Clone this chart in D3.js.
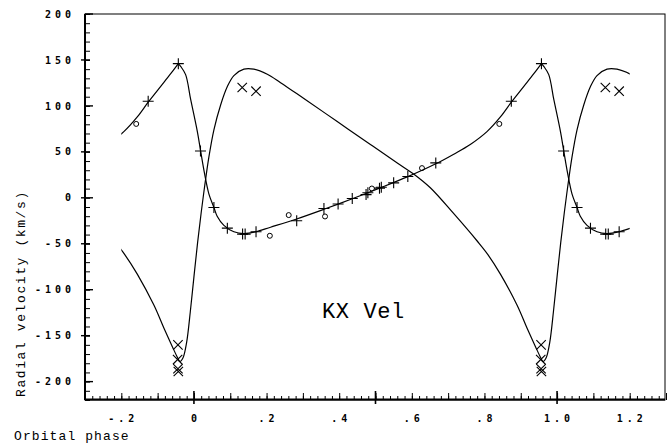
<!DOCTYPE html>
<html><head><meta charset="utf-8">
<script src="https://cdn.jsdelivr.net/npm/d3@7"></script>
<style>html,body{margin:0;padding:0;background:#fff;} svg{display:block;}</style>
</head><body>
<svg id="chart" width="667" height="445"></svg>
<script>
// ---- data (one orbital cycle; plotted at phase and phase +/- 1) ----
const primaryCurvePhase = [-0.043,-0.0366,-0.0229,-0.009,0.0094,0.0184,0.0294,0.0413,0.055,0.064,0.0825,0.11,0.1376,0.17,0.211,0.283,0.358,0.436,0.511,0.589,0.666,0.7155,0.761,0.807,0.844,0.874,0.908,0.936,0.957];
const primaryCurveRV    = [146,143,134,107,72,51,26,4,-10.5,-20,-30,-37,-39,-37,-32,-23,-12.5,-1,10.5,23,37,47.5,58,72,88,104,121,135,146];
const secondaryCurvePhase = [-0.395,-0.349,-0.285,-0.22,-0.19,-0.156,-0.11,-0.0825,-0.0594,-0.045,-0.0385,-0.03,-0.02,-0.01,0,0.01,0.02,0.03,0.041,0.055,0.0735,0.092,0.11,0.1376,0.165,0.202,0.2386,0.3027,0.3946,0.486,0.56,0.605];
const secondaryCurveRV    = [26,11,-17,-47,-62,-83,-117,-142,-162,-174,-178,-174,-157,-124,-86,-49,-16,14,44,74,101,121,133,140,140,134.5,125.3,108,83,58,38,26];
const primaryPlusPhase = [0.018,0.055,0.092,0.134,0.141,0.171,0.283,0.358,0.397,0.436,0.474,0.479,0.511,0.516,0.550,0.589,0.666,0.874,0.957];
const primaryPlusRV    = [51,-10.5,-33,-39.5,-39.5,-37,-25,-11.6,-6.8,-0.8,3.5,5.5,10.5,11.5,16.3,23.2,38,105,146];
const primaryCirclePhase = [0.209,0.261,0.361,0.490,0.628,0.841];
const primaryCircleRV    = [-41.3,-18.8,-20.3,10.1,32.3,80.4];
const secondaryCrossPhase = [0.133,0.171,0.956,0.955,0.956,0.957];
const secondaryCrossRV    = [120,116,-160,-176,-186,-189];
const xTickValues = [-0.2,0,0.2,0.4,0.6,0.8,1.0,1.2];
const xTickLabels = ["-.2","0",".2",".4",".6",".8","1.0","1.2"];
const yTickValues = [200,150,100,50,0,-50,-100,-150,-200];
const yTickLabels = ["200","150","100","50","0","-50","-100","-150","-200"];
const cycleShifts = [-1,0,1];
const phaseMin = -0.2, phaseMax = 1.2;

const svg = d3.select("#chart");
const x = d3.scaleLinear().domain([-0.3,1.3]).range([85,666]);
const y = d3.scaleLinear().domain([-220,200]).range([400,14]);

// frame
svg.append("rect").attr("x",x(-0.3)).attr("y",y(200)).attr("width",x(1.3)-x(-0.3)-1).attr("height",y(-220)-y(200))
  .attr("fill","none").attr("stroke","#000").attr("stroke-width",1);

// x axis ticks
const xMinor = d3.range(-15,66).map(i=>+(i*0.02).toFixed(2));
const xMid = d3.range(-3,14).map(i=>+(i*0.1).toFixed(1));
svg.append("g").attr("transform",`translate(0,${y(-220)})`)
  .call(d3.axisBottom(x).tickValues(xMinor).tickSize(-4).tickFormat("")).call(g=>g.select(".domain").remove());
svg.append("g").attr("transform",`translate(0,${y(-220)})`)
  .call(d3.axisBottom(x).tickValues(xMid).tickSize(-7).tickFormat("")).call(g=>g.select(".domain").remove());
[0,0.5,1.0].forEach(v=>{
  svg.append("line").attr("x1",x(v)).attr("x2",x(v)).attr("y1",y(-220)-9).attr("y2",y(-220)+4).attr("stroke","#000").attr("stroke-width",1.6);
});
// y axis ticks
const yMinor = d3.range(-22,21).map(i=>i*10);
svg.append("g").attr("transform",`translate(${x(-0.3)},0)`)
  .call(d3.axisLeft(y).tickValues(yMinor).tickSize(-5).tickFormat("")).call(g=>g.select(".domain").remove());
yTickValues.forEach(v=>{
  let x1 = x(-0.3), x2 = x(-0.3)+5;
  if (v===0){x1-=4; x2=x(-0.3)+8;}
  else if (v%100===0){x2=x(-0.3)+8;}
  else {x1-=4;}
  svg.append("line").attr("x1",x1).attr("x2",x2).attr("y1",y(v)).attr("y2",y(v)).attr("stroke","#000").attr("stroke-width",1.4);
});
// heavy left and bottom axis lines
svg.append("line").attr("x1",x(-0.3)).attr("x2",x(1.3)-1).attr("y1",y(-220)-0.5).attr("y2",y(-220)-0.5).attr("stroke","#000").attr("stroke-width",2);
svg.append("line").attr("x1",x(-0.3)).attr("x2",x(-0.3)).attr("y1",y(200)).attr("y2",y(-220)).attr("stroke","#000").attr("stroke-width",2);

// tick labels
const tickFont = "'DejaVu Sans Mono', monospace";
svg.append("g").selectAll("text").data(xTickValues).join("text")
  .attr("x",d=>x(d)+2).attr("y",y(-220)+22)
  .attr("text-anchor","middle").attr("font-family",tickFont).attr("font-weight","bold")
  .attr("font-size",10).attr("letter-spacing","4px").attr("fill","#000")
  .text((d,i)=>xTickLabels[i]);
svg.append("g").selectAll("text").data(yTickValues).join("text")
  .attr("x",75).attr("y",d=>y(d)).attr("dy","0.36em")
  .attr("text-anchor","end").attr("font-family",tickFont).attr("font-weight","bold")
  .attr("font-size",10).attr("letter-spacing","4px").attr("fill","#000")
  .text((d,i)=>yTickLabels[i]);

// axis titles
const titleFont = "'Liberation Mono', 'DejaVu Sans Mono', monospace";
svg.append("text").attr("x",14).attr("y",440).attr("font-family",titleFont).attr("font-size",13)
  .attr("letter-spacing","1.1px").attr("fill","#000").text("Orbital phase");
svg.append("text").attr("transform","translate(25,397) rotate(-90)").attr("font-family",titleFont).attr("font-size",13)
  .attr("letter-spacing","1.6px").attr("fill","#000").text("Radial velocity (km/s)");
svg.append("text").attr("x",322).attr("y",318).attr("font-family",titleFont).attr("font-size",22)
  .attr("letter-spacing","0.6px").attr("fill","#000").text("KX Vel");

// curves
svg.append("clipPath").attr("id","clip").append("rect")
  .attr("x",x(phaseMin)).attr("y",0).attr("width",x(phaseMax)-x(phaseMin)).attr("height",445);
const line = d3.line().x(d=>x(d[0])).y(d=>y(d[1])).curve(d3.curveCatmullRom.alpha(0.5));
const curves = svg.append("g").attr("clip-path","url(#clip)");
cycleShifts.forEach(k=>{
  curves.append("path").attr("d",line(primaryCurvePhase.map((p,i)=>[p+k,primaryCurveRV[i]])))
    .attr("fill","none").attr("stroke","#000").attr("stroke-width",1.2);
  curves.append("path").attr("d",line(secondaryCurvePhase.map((p,i)=>[p+k,secondaryCurveRV[i]])))
    .attr("fill","none").attr("stroke","#000").attr("stroke-width",1.2);
});

function fold(ph, rv){
  const out=[];
  cycleShifts.forEach(k=>ph.forEach((p,i)=>{const q=p+k; if(q>=phaseMin&&q<=phaseMax) out.push([q,rv[i]]);}));
  return out;
}
// markers
svg.append("g").selectAll("path").data(fold(primaryPlusPhase,primaryPlusRV)).join("path")
  .attr("d",d=>`M${x(d[0])-5.5},${y(d[1])}h11M${x(d[0])},${y(d[1])-5.5}v11`)
  .attr("stroke","#000").attr("stroke-width",1.1).attr("fill","none");
svg.append("g").selectAll("circle").data(fold(primaryCirclePhase,primaryCircleRV)).join("circle")
  .attr("cx",d=>x(d[0])).attr("cy",d=>y(d[1])).attr("r",2.5)
  .attr("stroke","#000").attr("stroke-width",1).attr("fill","none");
svg.append("g").selectAll("path").data(fold(secondaryCrossPhase,secondaryCrossRV)).join("path")
  .attr("d",d=>`M${x(d[0])-4.7},${y(d[1])-4.7}l9.4,9.4M${x(d[0])-4.7},${y(d[1])+4.7}l9.4,-9.4`)
  .attr("stroke","#000").attr("stroke-width",1.1).attr("fill","none");
</script>
</body></html>
